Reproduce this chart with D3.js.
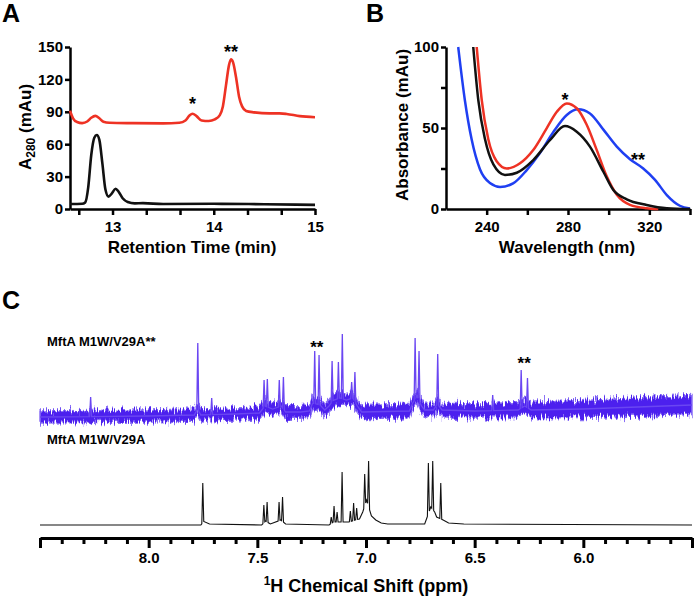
<!DOCTYPE html>
<html><head><meta charset="utf-8">
<script src="https://cdn.jsdelivr.net/npm/d3@7"></script>
<style>
body{margin:0;background:#fff}
svg text{font-family:"Liberation Sans",Arial,Helvetica,sans-serif;font-weight:bold;fill:#000}
</style></head><body>
<svg id="fig" width="694" height="599"></svg>
<script>
// ---------- Panel A : HPLC traces (retention time min, A280 mAu) ----------
const aTimeLabels = [13, 14, 15];
const aYTicks = [0, 30, 60, 90, 120, 150];
const aRed = [[12.58,91],[12.61,84],[12.65,80.5],[12.70,79.5],[12.75,81],[12.79,84.5],[12.83,86.2],[12.87,84],[12.91,80.8],[12.97,79.8],[13.2,79.5],[13.5,79.3],[13.66,79.9],[13.72,82],[13.76,86.5],[13.79,88.2],[13.83,86],[13.88,82],[13.95,81.5],[14.01,83],[14.06,87],[14.09,95],[14.12,114],[14.15,133],[14.17,138.6],[14.19,136],[14.22,122],[14.25,104],[14.28,95],[14.32,90.8],[14.4,89.5],[14.55,88.5],[14.65,88.5],[14.72,88],[14.85,86],[15,85]];
const aBlack = [[12.58,4.6],[12.7,4.8],[12.73,6],[12.76,20],[12.79,50],[12.82,66],[12.845,68.5],[12.87,64],[12.9,42],[12.93,18],[12.96,11.5],[12.99,14],[13.03,18.8],[13.06,16],[13.1,10],[13.15,6.5],[13.22,5.2],[13.3,5.4],[13.5,4.6],[14.0,4.8],[14.5,4.4],[15,3.8]];

// ---------- Panel B : UV-vis spectra (nm, mAu) ----------
const bXLabels = [240, 280, 320];
const bYLabels = [0, 50, 100];
const bBlue = [[226,100],[229.3,67],[232.6,43],[236.7,24.5],[241.6,16],[246.6,13.6],[253,15.8],[259.7,24],[266.2,34.5],[272.8,47.5],[279.4,58],[285,61.5],[290.8,59],[297.4,49],[304,38.5],[310.5,30.7],[317,25],[322.8,18],[328.6,8.6],[335,2],[340,0.3]];
const bRed = [[235.1,100],[237.6,67],[240.8,43],[244.9,29.5],[249.9,25],[256.4,28.2],[262.9,36.4],[269.5,49.8],[274.5,60],[279.4,65.2],[284.3,62.2],[289.2,52],[294.1,36.5],[299.1,20],[304,8.8],[310.5,2.6],[318.7,0.5],[324.4,0]];
const bBlack = [[233.4,100],[235.9,67],[239.2,43],[243.3,27.5],[249,21],[254.8,22.4],[262.9,30.2],[271.2,42.6],[278.5,51.2],[284.3,47.7],[290.8,38.5],[297.4,23],[302.3,11.7],[308.9,6],[318.7,2.5],[328.6,0.5],[340,0]];

// ---------- Panel C : 1H NMR (ppm, relative intensity) ----------
const cLabels = [8.0, 7.5, 7.0, 6.5, 6.0];
const cNames = ["MftA M1W/V29A**", "MftA M1W/V29A"];
const upperPeaks = [[8.267,21],[7.774,75],[7.71,20],[7.469,38],[7.454,39],[7.399,38],[7.380,41],[7.236,67],[7.216,63],[7.156,57],[7.127,56],[7.109,84],[7.066,36],[7.051,46],[6.774,80],[6.756,67],[6.670,64],[6.417,23],[6.286,48],[6.257,40]];
const upperBase = [[8.5,1],[8.0,2],[7.79,3],[7.775,9],[7.76,3],[7.6,4],[7.49,5],[7.465,12],[7.43,9],[7.39,12],[7.37,6],[7.3,6],[7.26,7],[7.245,15],[7.21,13],[7.19,8],[7.17,12],[7.15,18],[7.12,20],[7.09,18],[7.06,20],[7.04,12],[7.02,6],[6.8,7],[6.785,15],[6.765,22],[6.745,12],[6.73,8],[6.69,8],[6.672,14],[6.65,8],[6.5,7],[6.30,8],[6.27,12],[6.24,8],[6.0,9],[5.75,11],[5.5,13]];
const upperNoise = [[8.5,6],[7.5,6],[7.0,6.5],[6.5,7],[6.0,8.5],[5.5,9.5]];
const lowerPeaks = [[7.751,43],[7.470,21],[7.455,24],[7.400,24],[7.384,29],[7.160,9],[7.147,20],[7.133,14],[7.110,54],[7.072,15],[7.057,23],[7.043,18],[7.006,52],[6.988,65],[6.713,63],[6.693,65],[6.656,43]];
const lowerBase = [[8.5,1],[7.76,1],[7.745,5],[7.72,2],[7.48,1],[7.462,5],[7.44,2],[7.392,6],[7.37,2],[7.17,1],[7.15,4],[7.12,4],[7.08,4],[7.05,6],[7.03,7],[7.015,14],[6.997,26],[6.975,10],[6.955,6],[6.93,3],[6.9,2],[6.73,2],[6.72,8],[6.702,19],[6.684,14],[6.675,9],[6.645,6],[6.62,3],[6.55,2],[5.5,1]];

const svg = d3.select("#fig");
const FONT = "Liberation Sans, Arial, Helvetica, sans-serif";

function styleAxis(g, w, fs) {
  g.attr("font-family", FONT).attr("font-size", fs).attr("font-weight", "bold");
  g.select(".domain").attr("stroke", "#000").attr("stroke-width", w);
  g.selectAll(".tick line").attr("stroke", "#000").attr("stroke-width", w);
  g.selectAll(".tick text").attr("fill", "#000");
}

// ===== Panel A =====
const xA = d3.scaleLinear().domain([12.58, 15]).range([70, 315]);
const yA = d3.scaleLinear().domain([0, 150]).range([209, 47]);
const aTickVals = d3.range(38, 46).map(k => k / 3);
svg.append("g").attr("transform", "translate(0,209)")
  .call(d3.axisBottom(xA).tickValues(aTickVals).tickSize(6).tickSizeOuter(0).tickPadding(6)
    .tickFormat(d => aTimeLabels.some(v => Math.abs(v - d) < 1e-6) ? d3.format("d")(Math.round(d)) : ""))
  .call(g => styleAxis(g, 2.5, 15));
svg.append("g").attr("transform", "translate(70,0)")
  .call(d3.axisLeft(yA).tickValues(aYTicks).tickSize(5).tickSizeOuter(0).tickPadding(2))
  .call(g => styleAxis(g, 2.5, 15));
const lineA = d3.line().x(d => xA(d[0])).y(d => yA(d[1])).curve(d3.curveMonotoneX);
svg.append("path").datum(aRed).attr("d", lineA).attr("fill", "none").attr("stroke", "#ee3224").attr("stroke-width", 2.6);
svg.append("path").datum(aBlack).attr("d", lineA).attr("fill", "none").attr("stroke", "#111").attr("stroke-width", 2.6);
svg.append("text").attr("x", 192).attr("y", 253).attr("text-anchor", "middle").attr("font-size", 17).text("Retention Time (min)");
const tA = svg.append("text").attr("transform", "translate(31,127) rotate(-90)").attr("text-anchor", "middle").attr("font-size", 17);
tA.append("tspan").text("A");
tA.append("tspan").attr("font-size", 12).attr("dy", 4).text("280");
tA.append("tspan").attr("dy", -4).text(" (mAu)");
svg.append("text").attr("x", xA(13.79)).attr("y", 110).attr("text-anchor", "middle").attr("font-size", 18).text("*");
svg.append("text").attr("x", xA(14.17)).attr("y", 58).attr("text-anchor", "middle").attr("font-size", 18).text("**");
svg.append("text").attr("x", 2).attr("y", 22).attr("font-size", 25).text("A");

// ===== Panel B =====
const xB = d3.scaleLinear().domain([220, 340]).range([446, 690]);
const yB = d3.scaleLinear().domain([0, 100]).range([209, 47]);
svg.append("g").attr("transform", "translate(0,209)")
  .call(d3.axisBottom(xB).tickValues(d3.range(240, 341, 20)).tickSize(6).tickSizeOuter(0).tickPadding(6)
    .tickFormat(d => bXLabels.includes(d) ? d : ""))
  .call(g => styleAxis(g, 2.5, 15));
svg.append("g").attr("transform", "translate(446,0)")
  .call(d3.axisLeft(yB).tickValues(d3.range(0, 101, 25)).tickSize(5).tickSizeOuter(0).tickPadding(2)
    .tickFormat(d => bYLabels.includes(d) ? d : ""))
  .call(g => styleAxis(g, 2.5, 15));
const lineB = d3.line().x(d => xB(d[0])).y(d => yB(d[1])).curve(d3.curveMonotoneX);
svg.append("path").datum(bBlue).attr("d", lineB).attr("fill", "none").attr("stroke", "#1f3ff2").attr("stroke-width", 2.5);
svg.append("path").datum(bRed).attr("d", lineB).attr("fill", "none").attr("stroke", "#ee3224").attr("stroke-width", 2.5);
svg.append("path").datum(bBlack).attr("d", lineB).attr("fill", "none").attr("stroke", "#111").attr("stroke-width", 2.5);
svg.append("text").attr("x", 567).attr("y", 253).attr("text-anchor", "middle").attr("font-size", 17).text("Wavelength (nm)");
svg.append("text").attr("transform", "translate(408,125) rotate(-90)").attr("text-anchor", "middle").attr("font-size", 17).text("Absorbance (mAu)");
svg.append("text").attr("x", 565).attr("y", 105.5).attr("text-anchor", "middle").attr("font-size", 18).text("*");
svg.append("text").attr("x", 638).attr("y", 165.5).attr("text-anchor", "middle").attr("font-size", 18).text("**");
svg.append("text").attr("x", 366).attr("y", 22).attr("font-size", 25).text("B");

// ===== Panel C =====
const xC = d3.scaleLinear().domain([8.5, 5.5]).range([40, 692]);
const yU = d3.scaleLinear().domain([0, 100]).range([418, 318]);
const yL = d3.scaleLinear().domain([0, 100]).range([526, 426]);
const cTickVals = d3.range(55, 86).map(k => k / 10);
const isMajor = d => Math.abs(d * 2 - Math.round(d * 2)) < 1e-6;
svg.append("g").attr("transform", "translate(0,538)")
  .call(d3.axisBottom(xC).tickValues(cTickVals).tickSize(6).tickSizeOuter(0)
    .tickFormat(d => cLabels.some(v => Math.abs(v - d) < 1e-6) ? d3.format(".1f")(d) : ""))
  .call(g => styleAxis(g, 3, 15))
  .call(g => g.selectAll(".tick line").attr("y2", d => isMajor(d) ? 10 : 6))
  .call(g => g.selectAll(".tick text").attr("y", 25).attr("dy", 0));
const tC = svg.append("text").attr("x", 366).attr("y", 592).attr("text-anchor", "middle").attr("font-size", 18);
tC.append("tspan").attr("font-size", 12).attr("dy", -7).text("1");
tC.append("tspan").attr("dy", 7).text("H Chemical Shift (ppm)");

// noise texture filter for upper spectrum baseline
const defs = svg.append("defs");
const flt = defs.append("filter").attr("id", "noisy").attr("filterUnits", "userSpaceOnUse")
  .attr("x", 30).attr("y", 360).attr("width", 670).attr("height", 90).attr("color-interpolation-filters", "sRGB");
flt.append("feTurbulence").attr("type", "fractalNoise").attr("baseFrequency", "0.7 0.08").attr("numOctaves", 2).attr("seed", 7).attr("result", "t");
flt.append("feColorMatrix").attr("in", "t").attr("type", "matrix")
  .attr("values", "1 0 0 0 0  0 0 0 0 0.5  0 0 0 0 0  0 0 0 0 1").attr("result", "m");
flt.append("feDisplacementMap").attr("in", "SourceGraphic").attr("in2", "m").attr("scale", 16)
  .attr("xChannelSelector", "G").attr("yChannelSelector", "R");

function spectrumPoints(base, peaks, hw) {
  const baseAt = d3.scaleLinear().domain(base.map(d => d[0])).range(base.map(d => d[1]));
  const pts = base.filter(b => !peaks.some(p => Math.abs(p[0] - b[0]) <= hw * 1.5)).map(d => [d[0], d[1]]);
  peaks.forEach(([p, h]) => { pts.push([p + hw, baseAt(p + hw)], [p, h], [p - hw, baseAt(p - hw)]); });
  pts.sort((a, b) => b[0] - a[0]);
  return pts;
}
const HW = 0.0045;
// upper spectrum: noise band + spikes
const baseU = d3.scaleLinear().domain(upperBase.map(d => d[0])).range(upperBase.map(d => d[1]));
const noiseU = d3.scaleLinear().domain(upperNoise.map(d => d[0])).range(upperNoise.map(d => d[1]));
const bandPpm = Array.from(new Set(upperBase.map(d => d[0]).concat(upperNoise.map(d => d[0])))).sort((a, b) => b - a);
svg.append("path").datum(bandPpm)
  .attr("d", d3.area().x(d => xC(d)).y0(d => yU(baseU(d) - noiseU(d))).y1(d => yU(baseU(d) + noiseU(d))))
  .attr("fill", "#4c20ee").attr("stroke", "#8a70f6").attr("stroke-width", 1.5).attr("filter", "url(#noisy)");
const lineC = (ys) => d3.line().x(d => xC(d[0])).y(d => ys(d[1]));
svg.append("path").datum(spectrumPoints(upperBase, upperPeaks, HW)).attr("d", lineC(yU))
  .attr("fill", "none").attr("stroke", "#6a46f2").attr("stroke-width", 1.3);
svg.append("path").datum(spectrumPoints(lowerBase, lowerPeaks, HW)).attr("d", lineC(yL))
  .attr("fill", "none").attr("stroke", "#111").attr("stroke-width", 1.1);

svg.append("text").attr("x", 47).attr("y", 346).attr("font-size", 13).text(cNames[0]);
svg.append("text").attr("x", 47).attr("y", 444).attr("font-size", 13).text(cNames[1]);
svg.append("text").attr("x", xC(7.226)).attr("y", 353).attr("text-anchor", "middle").attr("font-size", 17).text("**");
svg.append("text").attr("x", xC(6.272)).attr("y", 369).attr("text-anchor", "middle").attr("font-size", 17).text("**");
svg.append("text").attr("x", 2).attr("y", 309).attr("font-size", 25).text("C");
</script>
</body></html>
